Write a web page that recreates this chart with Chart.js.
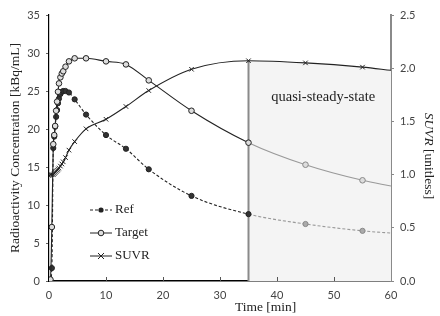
<!DOCTYPE html>
<html><head><meta charset="utf-8">
<script src="https://cdn.jsdelivr.net/npm/chart.js@4/dist/chart.umd.min.js"></script>
<style>html,body{margin:0;padding:0;background:#fff}#c{display:block}</style>
</head><body>
<canvas id="c" width="440" height="316"></canvas>
<script>
const times  = [0, 0.25, 0.5, 0.75, 0.92, 1.08, 1.25, 1.42, 1.58, 1.75, 2.0, 2.25, 2.5, 2.9, 3.5, 4.5, 6.5, 10, 13.5, 17.5, 25, 35, 45, 55, 60];
const target = [0, 0.2, 7.1, 18.0, 19.2, 20.4, 22.4, 23.6, 24.9, 26.0, 26.8, 27.3, 27.6, 28.2, 28.9, 29.3, 29.3, 28.9, 28.5, 26.4, 22.4, 18.2, 15.3, 13.25, 12.5];
const ref    = [0, 0.1, 1.7, 17.5, 19.0, 20.3, 21.6, 22.5, 23.4, 24.0, 24.6, 24.9, 25.0, 25.0, 24.8, 23.9, 21.9, 19.2, 17.4, 14.7, 11.2, 8.8, 7.5, 6.6, 6.3];
const suvr   = [0.99, 1.0, 1.0, 1.0, 1.01, 1.02, 1.03, 1.04, 1.05, 1.06, 1.08, 1.10, 1.12, 1.16, 1.23, 1.31, 1.43, 1.52, 1.64, 1.79, 1.99, 2.07, 2.05, 2.01, 1.98];
const steadyStart = 35;
const xTicks = [0, 10, 20, 30, 40, 50, 60];
const seriesNames = ['Ref', 'Target', 'SUVR'];
const regionLabel = 'quasi-steady-state';

const pts = arr => times.map((t, i) => ({x: t, y: arr[i]}));
const steadyIdx = times.map((t, i) => i).filter(i => times[i] >= steadyStart);
const radius = r => times.map(t => t === 60 ? 0 : r);
const greyAfter = (dark, light) => ctx => ctx.p0.parsed.x >= steadyStart ? light : dark;
const ptCol = (dark, light) => times.map(t => t > steadyStart ? light : dark);

const overlay = {
  id: 'overlay',
  afterDraw(chart) {
    const c = chart.ctx, x = chart.scales.x, y = chart.scales.y, y2 = chart.scales.y2;
    c.save();
    c.strokeStyle = '#555'; c.lineWidth = 1;
    xTicks.forEach(v => { if (v === 0 || v === 60) return; const px = Math.round(x.getPixelForValue(v)) + 0.5;
      c.beginPath(); c.moveTo(px, y.bottom); c.lineTo(px, y.bottom - 4); c.stroke(); });
    c.fillStyle = '#222'; c.font = '14.5px "Liberation Serif", serif';
    c.textAlign = 'center'; c.textBaseline = 'middle';
    c.fillText(regionLabel, x.getPixelForValue(48.1), y2.getPixelForValue(1.73));
    c.font = '13.5px "Liberation Serif", serif';
    c.fillText('Time [min]', x.getPixelForValue(38), 307);
    c.save(); c.translate(15, 148); c.rotate(-Math.PI/2);
    c.fillText('Radioactivity Concentration [kBq/mL]', 0, 0); c.restore();
    c.save(); c.translate(429, 156); c.rotate(Math.PI/2);
    c.textAlign = 'left';
    c.font = 'italic 13.5px "Liberation Serif", serif';
    const w1 = c.measureText('SUVR ').width;
    c.font = '13.5px "Liberation Serif", serif';
    const w2 = c.measureText('[unitless]').width;
    const start = -(w1 + w2) / 2;
    c.font = 'italic 13.5px "Liberation Serif", serif';
    c.fillText('SUVR ', start, 0);
    c.font = '13.5px "Liberation Serif", serif';
    c.fillText('[unitless]', start + w1, 0);
    c.restore();
    const lx0 = 90, lx1 = 112, ly = [210, 233, 256];
    c.strokeStyle = '#222'; c.lineWidth = 1;
    ly.forEach((yy, i) => {
      c.setLineDash(i === 0 ? [3, 2] : []);
      c.beginPath(); c.moveTo(lx0, yy); c.lineTo(lx1, yy); c.stroke();
      c.setLineDash([]);
      const mx = (lx0 + lx1) / 2;
      if (i === 0) { c.fillStyle = '#222'; c.beginPath(); c.arc(mx, yy, 2.6, 0, Math.PI*2); c.fill(); }
      if (i === 1) { c.fillStyle = '#ddd'; c.beginPath(); c.arc(mx, yy, 2.8, 0, Math.PI*2); c.fill(); c.stroke(); }
      if (i === 2) { c.beginPath(); c.moveTo(mx-3, yy-3); c.lineTo(mx+3, yy+3); c.moveTo(mx-3, yy+3); c.lineTo(mx+3, yy-3); c.stroke(); }
      c.fillStyle = '#222'; c.textAlign = 'left'; c.font = '13px "Liberation Serif", serif';
      c.fillText(seriesNames[i], 115, yy);
    });
    c.restore();
  }
};

new Chart(document.getElementById('c'), {
  type: 'line',
  data: {
    datasets: [
      { label: 'region', data: steadyIdx.map(i => ({x: times[i], y: suvr[i]})), yAxisID: 'y2',
        fill: 'origin', backgroundColor: '#f4f4f4', borderWidth: 0, pointRadius: 0,
        cubicInterpolationMode: 'monotone', order: 10 },
      { label: 'boundary', data: [{x: steadyStart, y: 0}, {x: steadyStart, y: suvr[times.indexOf(steadyStart)]}], yAxisID: 'y2',
        borderColor: '#8a8a8a', borderWidth: 2, pointRadius: 0, order: 9 },
      { label: 'Ref', data: pts(ref), yAxisID: 'y', borderColor: '#222', borderWidth: 1.1, borderDash: [3, 2],
        segment: { borderColor: greyAfter('#222', '#999') },
        pointStyle: 'circle', pointRadius: radius(2.6), pointBackgroundColor: ptCol('#333', '#aaa'), pointBorderColor: ptCol('#222', '#888'),
        pointBorderWidth: 1, cubicInterpolationMode: 'monotone', order: 2 },
      { label: 'Target', data: pts(target), yAxisID: 'y', borderColor: '#222', borderWidth: 1.1,
        segment: { borderColor: greyAfter('#222', '#999') },
        pointStyle: 'circle', pointRadius: radius(2.8), pointBackgroundColor: ptCol('#ddd', '#ddd'), pointBorderColor: ptCol('#222', '#888'),
        pointBorderWidth: 1, cubicInterpolationMode: 'monotone', order: 1 },
      { label: 'SUVR', data: pts(suvr), yAxisID: 'y2', borderColor: '#222', borderWidth: 1.1,
        pointStyle: 'crossRot', pointRadius: radius(3.2), pointBorderColor: '#222', pointBorderWidth: 1,
        cubicInterpolationMode: 'monotone', order: 0 }
    ]
  },
  options: {
    responsive: false, animation: false, devicePixelRatio: 1,
    layout: { padding: { top: 15, left: 0, right: 0, bottom: 0 } },
    plugins: { legend: { display: false }, tooltip: { enabled: false } },
    scales: {
      x: { type: 'linear', min: 0, max: 60,
        afterBuildTicks: s => { s.ticks = xTicks.map(v => ({value: v})); },
        afterFit: s => { s.height = 35; },
        grid: { display: false, drawTicks: false },
        border: { color: '#000', width: 1.5 },
        ticks: { padding: 8, color: '#444', font: { family: 'Lato', size: 11 } } },
      y: { min: 0, max: 35, position: 'left',
        afterFit: s => { s.width = 49; },
        grid: { drawOnChartArea: false, drawTicks: true, tickLength: 3, color: '#666' },
        border: { color: '#000', width: 1.2 },
        ticks: { stepSize: 5, padding: 6, color: '#444', font: { family: 'Lato', size: 11 } } },
      y2: { min: 0, max: 2.5, position: 'right',
        afterFit: s => { s.width = 49; },
        grid: { drawOnChartArea: false, drawTicks: true, tickLength: 3, color: '#888' },
        border: { color: '#8a8a8a', width: 2 },
        ticks: { stepSize: 0.5, padding: 6, color: '#444', font: { family: 'Lato', size: 11 },
          callback: v => v.toFixed(1) } }
    }
  },
  plugins: [overlay]
});
</script>
</body></html>
